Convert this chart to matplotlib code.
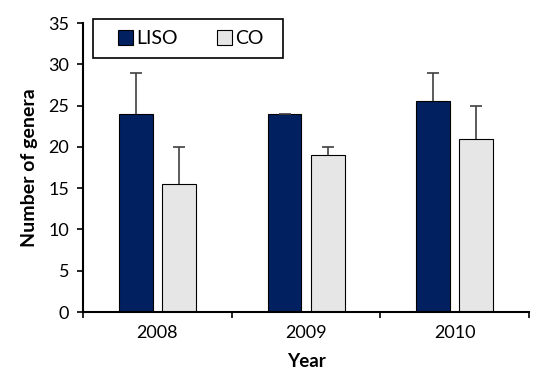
import numpy as np
import matplotlib
matplotlib.use("Agg")
import matplotlib.pyplot as plt
from matplotlib.patches import Rectangle

years = ["2008", "2009", "2010"]
liso_values = [24, 24, 25.5]
liso_errors = [5, 0, 3.5]
co_values = [15.5, 19, 21]
co_errors = [4.5, 1, 4]

plt.rcParams['font.family'] = ['Lato', 'DejaVu Sans']

fig = plt.figure(figsize=(5.5, 3.91), dpi=100)
axis = fig.add_axes([0.151, 0.202, 0.811, 0.739])

x = np.arange(len(years))
width = 0.227
offset = 0.145
err_kw = dict(ecolor="#404040", elinewidth=1.2, capsize=4, capthick=1.2)

bars = []
bars.append(axis.bar(x - offset, liso_values, width, color="#002060",
        edgecolor="black", linewidth=0.8, label="LISO",
        yerr=[np.zeros(len(years)), liso_errors], error_kw=err_kw, zorder=2))
bars.append(axis.bar(x + offset, co_values, width, color="#E6E6E6",
        edgecolor="black", linewidth=0.8, label="CO",
        yerr=[np.zeros(len(years)), co_errors], error_kw=err_kw, zorder=2))
# only the upper half of the error bars is shown
for container in bars:
    caplines = container.errorbar.lines[1]
    caplines[0].set_visible(False)

axis.set_xlim(-0.5, len(years) - 0.5)
axis.set_ylim(0, 35)
axis.set_yticks(np.arange(0, 36, 5))
axis.set_xticks(x)
axis.set_xticklabels(years)
axis.tick_params(axis="x", length=0, labelsize=13, pad=9)
axis.set_xticks(np.arange(-0.5, len(years)), minor=True)
axis.tick_params(axis="x", which="minor", length=4, width=1.2, direction="out")
axis.tick_params(axis="y", length=4, width=1.2, direction="out", labelsize=13, pad=6)

for side in ["top", "right"]:
    axis.spines[side].set_visible(False)
for side in ["left", "bottom"]:
    axis.spines[side].set_linewidth(1.5)

axis.set_xlabel("Year", fontsize=13.5, fontweight="bold", labelpad=9)
axis.set_ylabel("Number of genera", fontsize=14, fontweight="bold", labelpad=7)

# legend box drawn by hand, entries centred in it
box = Rectangle((0.0224, 0.879), 0.426, 0.135, transform=axis.transAxes,
        facecolor="white", edgecolor="black", linewidth=1.2,
        clip_on=False, zorder=4)
axis.add_patch(box)
legend = axis.legend(loc="center", bbox_to_anchor=(0.242, 0.946), ncol=2,
        frameon=False, handlelength=0.75, handleheight=0.75,
        handletextpad=0.2, columnspacing=2.0, borderpad=0,
        prop={"size": 14})
legend.set_zorder(5)

plt.savefig("out.png", dpi=100)
